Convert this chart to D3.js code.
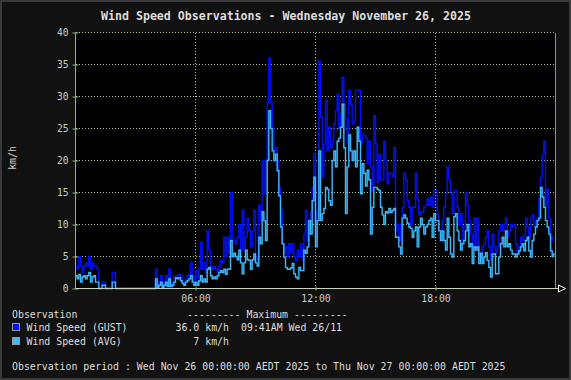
<!DOCTYPE html>
<html>
<head>
<meta charset="utf-8">
<script src="https://cdn.jsdelivr.net/npm/d3@7"></script>
<style>
  html, body { margin: 0; padding: 0; background: #111111; }
  svg { display: block; }
  text { font-family: "DejaVu Sans Mono", monospace; }
</style>
</head>
<body>
<svg id="chart" width="571" height="380"></svg>
<script>
// ---- data (5-minute samples, one row per hour, km/h) ----
const titleText = "Wind Speed Observations - Wednesday November 26, 2025";
const yTicks = [0, 5, 10, 15, 20, 25, 30, 35, 40];
const xTickHours = [6, 12, 18];
const xTickLabels = ["06:00", "12:00", "18:00"];

const gustRows = [
  [3.5, 3, 5, 3.5, 2.5, 3.5, 4, 3.5, 5, 3, 4, 3.5],
  [3.5, 3, 0, 0, 1, 1, 0, 0, 0, 0, 2.5, 2.5],
  [0, 0, 0, 0, 0, 0, 0, 0, 0, 0, 0, 0],
  [0, 0, 0, 0, 0, 0, 0, 0, 0, 0, 0, 0],
  [3, 0.5, 1, 2, 0.3, 1, 2, 0.5, 3, 0.5, 1, 2],
  [2, 2, 2.2, 2, 1, 1, 1.5, 2, 2.2, 4, 2, 1.2],
  [2.8, 1.5, 3, 7.2, 3, 4, 2.5, 9, 6, 3.5, 3, 3.5],
  [3, 2.5, 3.5, 4.4, 4, 8, 5, 8, 5.5, 15, 8, 7.5],
  [7, 8, 10, 6, 12.2, 6, 8, 11, 9, 6.5, 9, 12.2],
  [5, 4.5, 13, 10.6, 20, 14.8, 20, 29, 36, 29, 25, 21.5],
  [22, 20, 15.8, 12.2, 7, 5.5, 6.5, 5, 7, 5.5, 7, 5],
  [4.4, 6, 5, 7, 4.4, 8.5, 12.2, 7.5, 10.6, 12, 15.8, 21],
  [10.6, 12, 35.5, 26.8, 17.4, 22.6, 29.4, 21.5, 25.2, 22, 23, 25.7],
  [27.8, 30.4, 25, 27.3, 33, 28.8, 26.5, 22.6, 31, 28.8, 25.7, 26],
  [31, 31, 31, 22.6, 24, 24, 23.6, 19.5, 23, 19, 15.3, 27],
  [22.6, 16.5, 21, 17, 17, 23, 20, 16.4, 18, 18, 17.5, 22],
  [9, 10, 7.5, 10, 12.7, 18, 17, 13.7, 12.7, 10, 12.7, 12.7],
  [18, 14, 11.5, 12, 12, 12.7, 13, 14, 13, 14.3, 12.7, 15.3],
  [15.3, 11.5, 9, 7.5, 10.6, 12.7, 14.8, 19, 17, 14.8, 11.7, 15.3],
  [15.3, 12.7, 10, 11.7, 7.5, 9.6, 15, 13, 10.6, 8.5, 6.5, 11],
  [6.5, 11, 5, 4.5, 6.5, 7, 8, 9, 6.5, 4.5, 8.5, 6.5],
  [5.5, 6.5, 9, 10, 9, 10, 11, 8, 9, 10, 9.6, 10],
  [7, 5.5, 6.5, 8, 7.5, 8.5, 11, 9.6, 8, 11, 11.5, 9.6],
  [10.6, 11, 14, 17.4, 21, 23, 13, 15.5, 11, 7.5, 8, 8]
];
const avgRows = [
  [2, 1.5, 2.2, 1, 1.8, 2, 1.5, 2, 2.5, 1, 1.8, 2],
  [1, 1, 0, 0, 0.5, 0.5, 0, 0, 0, 0, 1, 1],
  [0, 0, 0, 0, 0, 0, 0, 0, 0, 0, 0, 0],
  [0, 0, 0, 0, 0, 0, 0, 0, 0, 0, 0, 0],
  [1.5, 0.2, 0.5, 1, 0.2, 0.5, 1, 0.3, 1.5, 0.3, 0.5, 1],
  [1.7, 1.5, 1.7, 1.2, 0.8, 0.5, 1, 1.2, 1.5, 2, 1, 0.5],
  [1, 0.5, 1.2, 2, 1, 1.5, 1, 3, 3.3, 2, 1.5, 1.8],
  [1.5, 2, 2.5, 2.8, 2.5, 3, 2.2, 3, 3, 7.5, 5, 5.5],
  [5, 4.5, 6, 4, 2.3, 4, 6, 4.5, 4.4, 3, 4.5, 5.4],
  [4, 3.5, 8, 7, 12, 10.6, 7.5, 20, 27.8, 25, 21.5, 20],
  [21, 18.4, 14.5, 9.6, 7, 4.9, 3.3, 3, 3, 3.2, 3.9, 2.3],
  [1.8, 1.5, 3.3, 2.8, 2.8, 6, 5.5, 6.5, 10.6, 8.5, 13.7, 17.4],
  [6.5, 10.6, 21.5, 10.6, 11.7, 12.5, 15.8, 15.5, 13.7, 13, 20, 21.5],
  [19, 23, 23.5, 25.2, 28.8, 22, 11.7, 19, 24, 21.5, 20, 21.5],
  [19, 25.2, 23, 14.8, 19.5, 18, 16, 18.5, 17, 8.5, 12.7, 15.8],
  [15.8, 15.5, 15.3, 12.7, 11.5, 10, 12, 11.8, 12.5, 11.9, 12.2, 12.5],
  [8, 8, 6.5, 5.4, 11, 11.5, 11, 10.2, 9.6, 9.4, 8, 9],
  [9.6, 6.5, 9.6, 11, 10, 8.5, 9.6, 10, 10.6, 11, 8, 11.7],
  [10.6, 10.6, 9, 7.5, 9, 7.5, 6, 11, 8, 5.4, 4.9, 11.2],
  [11.7, 9, 7.5, 6, 7, 7.5, 9, 10, 6.5, 7, 3.9, 6.5],
  [6, 6.5, 3.9, 5.5, 3.9, 4.9, 5.6, 4.4, 3.3, 1.8, 5.4, 5.4],
  [2.3, 2.3, 4.9, 7, 8, 6.5, 9, 6.5, 7, 6, 5.4, 5.4],
  [4.9, 5.4, 5.9, 6.5, 7, 5.9, 7.5, 8, 5.9, 4.9, 7.5, 8.5],
  [9.6, 10.6, 11, 15.8, 14.3, 12.7, 10.6, 9.6, 8.5, 5.9, 5, 5.6]
];
const seriesNames = ["Wind Speed (GUST)", "Wind Speed (AVG)"];
const seriesMax = ["36.0 km/h", "7 km/h"];
const gustMaxWhen = "09:41AM Wed 26/11";

// ---- build ----
const gust = gustRows.flat();
const avg = avgRows.flat();
const hours = gust.map((_, i) => i * 5 / 60);

const svg = d3.select("#chart");
const W = 571, H = 380;
const M = { left: 75.5, right: 555.5, top: 32.5, bottom: 288.5 };

svg.append("rect").attr("x", 0).attr("y", 0).attr("width", W).attr("height", H).attr("fill", "#111111");
svg.append("rect").attr("x", 1).attr("y", 1).attr("width", W - 2).attr("height", H - 2)
  .attr("fill", "none").attr("stroke", "#3a3a3a").attr("stroke-width", 2);

const x = d3.scaleLinear().domain([0, 24]).range([M.left, M.right]);
const y = d3.scaleLinear().domain([0, 40]).range([M.bottom, M.top]);

// plot background
svg.append("rect").attr("x", M.left).attr("y", M.top).attr("width", M.right - M.left)
  .attr("height", M.bottom - M.top).attr("fill", "#000000");

// grid
const grid = svg.append("g").attr("stroke", "#b9c9a8").attr("stroke-width", 1)
  .attr("stroke-dasharray", "1,2").attr("shape-rendering", "crispEdges");
grid.selectAll("line.h").data(yTicks.filter(d => d > 0)).join("line")
  .attr("x1", M.left).attr("x2", M.right).attr("y1", d => y(d)).attr("y2", d => y(d));
grid.selectAll("line.v").data(xTickHours).join("line")
  .attr("x1", d => x(d)).attr("x2", d => x(d)).attr("y1", M.top).attr("y2", M.bottom);

// series
const line = (vals) => d3.line().curve(d3.curveStepAfter)
  .x((d, i) => x(hours[i])).y(d => y(d))(vals);
svg.append("path").attr("d", line(gust)).attr("fill", "none").attr("stroke", "#0010ff")
  .attr("stroke-width", 1.4);
svg.append("path").attr("d", line(avg)).attr("fill", "none").attr("stroke", "#3cbcff")
  .attr("stroke-width", 1.4);

// right edge
svg.append("line").attr("x1", M.right).attr("x2", M.right).attr("y1", M.top).attr("y2", M.bottom)
  .attr("stroke", "#9a9a3a").attr("shape-rendering", "crispEdges");

// y axis
const yAxis = d3.axisLeft(y).tickValues(yTicks).tickSize(3).tickPadding(4);
const gy = svg.append("g").attr("transform", `translate(${M.left},0)`).call(yAxis);
gy.select(".domain").attr("stroke", "#8fb87a").attr("d", `M0,${M.bottom}V${M.top}`);
gy.selectAll(".tick line").attr("stroke", "#8fb87a").attr("x1", 3).attr("x2", -3);
gy.selectAll(".tick text").attr("fill", "#cccccc").style("font-family", "DejaVu Sans Mono")
  .style("font-size", "9.6px");

// x axis
const xAxis = d3.axisBottom(x).tickValues(xTickHours).tickFormat((d, i) => xTickLabels[i])
  .tickSize(3).tickPadding(4);
const gx = svg.append("g").attr("transform", `translate(0,${M.bottom})`).call(xAxis);
gx.select(".domain").attr("stroke", "#c8d4c0").attr("d", `M${M.left},0H${M.right + 3}`);
gx.selectAll(".tick line").attr("stroke", "#8fb87a").attr("y1", -2).attr("y2", 2);
gx.selectAll(".tick text").attr("fill", "#cccccc").style("font-family", "DejaVu Sans Mono")
  .style("font-size", "9.8px");
// arrow
svg.append("path").attr("d", `M${M.right + 3},${M.bottom - 3.5}L${M.right + 10},${M.bottom}L${M.right + 3},${M.bottom + 3.5}Z`)
  .attr("fill", "none").attr("stroke", "#ffffff").attr("stroke-width", 1);

// y axis title
svg.append("text").text("km/h").attr("fill", "#cccccc").style("font-size", "9.8px")
  .attr("text-anchor", "middle").attr("transform", "translate(15.5,158) rotate(-90)");

// title
svg.append("text").text(titleText).attr("x", 286).attr("y", 19.5).attr("text-anchor", "middle")
  .attr("fill", "#dddddd").style("font-size", "11.6px").style("font-weight", "bold");

// legend
const lg = svg.append("g").attr("fill", "#dddddd").style("font-size", "9.9px");
lg.append("text").text("Observation").attr("x", 12).attr("y", 318);
lg.append("text").text("--------- Maximum ---------").attr("x", 187).attr("y", 318);
const legColors = ["#0010ff", "#3cbcff"];
const rowsY = [331, 345];
seriesNames.forEach((n, i) => {
  svg.append("rect").attr("x", 12.5).attr("y", rowsY[i] - 7.5).attr("width", 7).attr("height", 7)
    .attr("fill", legColors[i]).attr("stroke", "#999999");
  lg.append("text").text(n).attr("x", 26.5).attr("y", rowsY[i]);
});
lg.append("text").text(seriesMax[0]).attr("x", 229).attr("y", rowsY[0]).attr("text-anchor", "end");
lg.append("text").text(gustMaxWhen).attr("x", 241).attr("y", rowsY[0]);
lg.append("text").text(seriesMax[1]).attr("x", 229).attr("y", rowsY[1]).attr("text-anchor", "end");
lg.append("text").text("Observation period : Wed Nov 26 00:00:00 AEDT 2025 to Thu Nov 27 00:00:00 AEDT 2025")
  .attr("x", 12).attr("y", 370);
</script>
</body>
</html>
